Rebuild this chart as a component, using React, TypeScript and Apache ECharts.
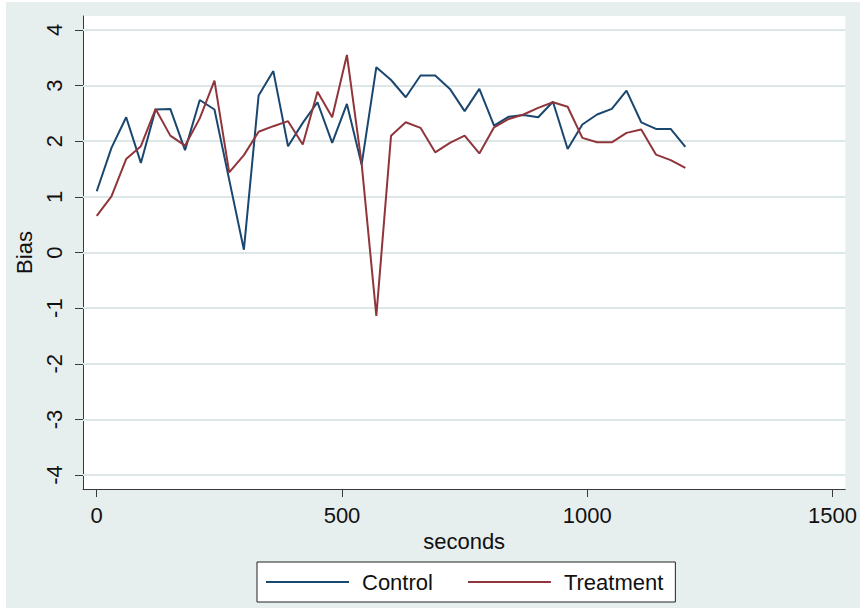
import React, { useEffect, useRef } from "react";
import * as echarts from "echarts";

// Time in seconds at which bias was measured
const seconds = [
  0, 30, 60, 90, 120, 150, 180, 210, 240, 270, 300, 330, 360, 390, 420, 450,
  480, 510, 540, 570, 600, 630, 660, 690, 720, 750, 780, 810, 840, 870, 900,
  930, 960, 990, 1020, 1050, 1080, 1110, 1140, 1170, 1200,
];

const controlBias = [
  1.1, 1.88, 2.43, 1.61, 2.57, 2.58, 1.84, 2.74, 2.57, 1.31, 0.05, 2.82, 3.26,
  1.91, 2.33, 2.7, 1.97, 2.67, 1.58, 3.33, 3.1, 2.79, 3.18, 3.18, 2.94, 2.54,
  2.94, 2.28, 2.44, 2.47, 2.43, 2.71, 1.86, 2.3, 2.48, 2.58, 2.91, 2.34, 2.22,
  2.22, 1.9,
];

const treatmentBias = [
  0.66, 1.01, 1.68, 1.91, 2.58, 2.1, 1.92, 2.41, 3.09, 1.44, 1.75, 2.17, 2.27,
  2.36, 1.94, 2.89, 2.43, 3.55, 1.6, -1.14, 2.1, 2.34, 2.24, 1.8, 1.97, 2.1,
  1.78, 2.25, 2.4, 2.48, 2.6, 2.7, 2.62, 2.06, 1.98, 1.98, 2.15, 2.21, 1.76,
  1.66, 1.52,
];

const xTicks = [0, 500, 1000, 1500];
const yTicks = [-4, -3, -2, -1, 0, 1, 2, 3, 4];

const FONT = "'Liberation Sans', Arial, sans-serif";
const NAVY = "#1a476f";
const MAROON = "#90353b";
const REGION_BG = "#e7eeee";
const GRID_LINE = "#dde7e7";
const AXIS = "#3a3a3a";

export default function App() {
  const ref = useRef<HTMLDivElement>(null);

  useEffect(() => {
    if (!ref.current) return;
    const chart = echarts.init(ref.current, undefined, { renderer: "svg" });

    const pairs = (ys: number[]) => seconds.map((s, i) => [s, ys[i]]);

    chart.setOption({
      animation: false,
      backgroundColor: "#ffffff",
      graphic: [
        {
          type: "rect",
          z: -10,
          shape: { x: 6, y: 2, width: 854, height: 606 },
          style: { fill: REGION_BG },
        },
      ],
      grid: {
        left: 83,
        top: 16,
        right: 8,
        bottom: 119,
        show: true,
        backgroundColor: "#ffffff",
        borderWidth: 0,
      },
      legend: {
        left: 257,
        top: 562,
        backgroundColor: "#ffffff",
        borderColor: "#222",
        borderWidth: 1,
        borderRadius: 0,
        padding: [9, 12, 9, 9],
        itemGap: 35,
        icon: "rect",
        itemWidth: 83,
        itemHeight: 2,
        textStyle: {
          fontFamily: FONT,
          fontSize: 22,
          color: "#111",
          lineHeight: 22,
          padding: [0, 0, 0, 8],
        },
        data: ["Control", "Treatment"],
      },
      xAxis: {
        type: "value",
        min: -28,
        max: 1526,
        name: "seconds",
        nameLocation: "middle",
        nameGap: 36,
        nameTextStyle: { fontFamily: FONT, fontSize: 22, color: "#111" },
        axisLine: { show: true, onZero: false, lineStyle: { color: AXIS, width: 1 } },
        axisTick: {
          show: true,
          length: 8,
          customValues: xTicks,
          lineStyle: { color: AXIS, width: 1 },
        },
        axisLabel: {
          customValues: xTicks,
          formatter: (v: number) => String(v),
          fontFamily: FONT,
          fontSize: 22,
          color: "#111",
          margin: 15,
        },
        splitLine: { show: false },
      },
      yAxis: {
        type: "value",
        min: -4.25,
        max: 4.25,
        name: "Bias",
        nameLocation: "middle",
        nameGap: 35,
        nameTextStyle: { fontFamily: FONT, fontSize: 22, color: "#111" },
        axisLine: { show: true, onZero: false, lineStyle: { color: AXIS, width: 1 } },
        axisTick: {
          show: true,
          length: 8,
          customValues: yTicks,
          lineStyle: { color: AXIS, width: 1 },
        },
        axisLabel: {
          customValues: yTicks,
          formatter: (v: number) => String(v),
          rotate: 90,
          fontFamily: FONT,
          fontSize: 22,
          color: "#111",
          margin: 18,
        },
        splitLine: { show: false },
      },
      series: [
        {
          name: "Control",
          type: "line",
          data: pairs(controlBias),
          symbol: "none",
          color: NAVY,
          lineStyle: { color: NAVY, width: 2 },
          z: 3,
          markLine: {
            silent: true,
            symbol: "none",
            label: { show: false },
            lineStyle: { color: GRID_LINE, width: 2, type: "solid" },
            data: yTicks.map((v) => ({ yAxis: v })),
            z: 1,
          },
        },
        {
          name: "Treatment",
          type: "line",
          data: pairs(treatmentBias),
          symbol: "none",
          color: MAROON,
          lineStyle: { color: MAROON, width: 2 },
          z: 4,
        },
      ],
    });

    return () => chart.dispose();
  }, []);

  return (
    <div
      ref={ref}
      style={{ position: "fixed", left: 0, top: 0, width: 860, height: 608 }}
    />
  );
}
